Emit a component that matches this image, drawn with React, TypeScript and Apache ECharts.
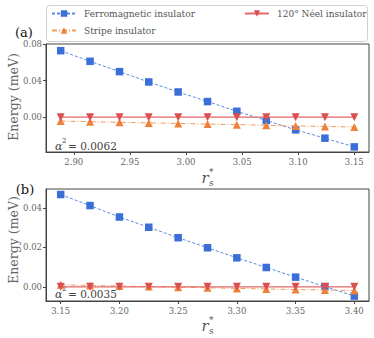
import React, { useEffect, useRef } from "react";
import * as echarts from "echarts";

const rsA = [2.8883, 2.9145, 2.9407, 2.9668, 2.993, 3.0192, 3.0453, 3.0715, 3.0977, 3.1238, 3.15];
const fmA = [0.0727, 0.0611, 0.0498, 0.0385, 0.0276, 0.0171, 0.0065, -0.0036, -0.0138, -0.0229, -0.0324];
const stripeA = [-0.0042, -0.0049, -0.0056, -0.0062, -0.0068, -0.0075, -0.0081, -0.0088, -0.0095, -0.0101, -0.0107];
const neelA = [0, 0, 0, 0, 0, 0, 0, 0, 0, 0, 0];

const rsB = [3.15, 3.175, 3.2, 3.225, 3.25, 3.275, 3.3, 3.325, 3.35, 3.375, 3.4];
const fmB = [0.0468, 0.0412, 0.0354, 0.0302, 0.0249, 0.0198, 0.0147, 0.0098, 0.0049, 0.0001, -0.0047];
const stripeB = [0.001, 0.0007, 0.0004, 0.0001, -0.0002, -0.0005, -0.0008, -0.0011, -0.0014, -0.0016, -0.0019];
const neelB = [0, 0, 0, 0, 0, 0, 0, 0, 0, 0, 0];

const xTicksA = [2.9, 2.95, 3.0, 3.05, 3.1, 3.15];
const xTicksB = [3.15, 3.2, 3.25, 3.3, 3.35, 3.4];
const yTicksA = [0, 0.04, 0.08];
const yTicksB = [0, 0.02, 0.04];

const FONT = "DejaVu Serif";
const BLUE = "#3b6fd8";
const ORANGE = "#ef8038";
const RED = "#d9504e";
const FM = "Ferromagnetic insulator";
const ST = "Stripe insulator";
const NE = "120° Néel insulator";

const pair = (xs: number[], ys: number[]) => xs.map((x, i) => [x, ys[i]]);

function xAxisCfg(grid: number, min: number, max: number, ticks: number[]) {
  return {
    type: "value",
    gridIndex: grid,
    min,
    max,
    axisLine: { show: true, onZero: false, lineStyle: { color: "#444", width: 1 } },
    axisTick: { show: true, length: 3, lineStyle: { color: "#444" }, customValues: ticks },
    axisLabel: {
      customValues: ticks,
      formatter: (v: number) => v.toFixed(2),
      color: "#666",
      fontFamily: FONT,
      fontSize: 8.5,
      margin: 5,
    },
    splitLine: { show: false },
  };
}

function yAxisCfg(grid: number, min: number, max: number, ticks: number[]) {
  return {
    type: "value",
    gridIndex: grid,
    min,
    max,
    axisLine: { show: true, onZero: false, lineStyle: { color: "#444", width: 1 } },
    axisTick: { show: true, length: 3, lineStyle: { color: "#444" }, customValues: ticks },
    axisLabel: {
      customValues: ticks,
      formatter: (v: number) => v.toFixed(2),
      color: "#666",
      fontFamily: FONT,
      fontSize: 8.5,
      margin: 4,
    },
    splitLine: { show: false },
  };
}

function seriesFor(idx: number, fm: number[], st: number[], ne: number[], xs: number[]) {
  return [
    {
      name: FM,
      type: "line",
      xAxisIndex: idx,
      yAxisIndex: idx,
      data: pair(xs, fm),
      symbol: "rect",
      symbolSize: 7.5,
      itemStyle: { color: BLUE },
      lineStyle: { color: "#5a88e0", width: 1, type: [3, 2] },
      z: 2,
    },
    {
      name: ST,
      type: "line",
      xAxisIndex: idx,
      yAxisIndex: idx,
      data: pair(xs, st),
      symbol: "triangle",
      symbolSize: 8,
      itemStyle: { color: ORANGE },
      lineStyle: { color: "#f39a60", width: 1, type: [5, 2, 1, 2] },
      z: 3,
    },
    {
      name: NE,
      type: "line",
      xAxisIndex: idx,
      yAxisIndex: idx,
      data: pair(xs, ne),
      symbol: "triangle",
      symbolRotate: 180,
      symbolSize: 8,
      itemStyle: { color: RED },
      lineStyle: { color: "#e06a68", width: 1.2, type: "solid" },
      z: 4,
    },
  ];
}

function xLabel(cx: number, cy: number) {
  return {
    type: "group",
    x: cx,
    y: cy,
    children: [
      { type: "text", x: 0, y: 0, style: { text: "r", fontFamily: FONT, fontStyle: "italic", fontSize: 15, fill: "#555", textAlign: "center", textVerticalAlign: "middle" } },
      { type: "text", x: 4, y: -6, style: { text: "*", fontFamily: FONT, fontSize: 9, fill: "#555", textAlign: "left", textVerticalAlign: "middle" } },
      { type: "text", x: 4, y: 5, style: { text: "s", fontFamily: FONT, fontStyle: "italic", fontSize: 9, fill: "#555", textAlign: "left", textVerticalAlign: "middle" } },
    ],
  };
}

function alphaLabel(x: number, y: number, val: string) {
  return {
    type: "group",
    x,
    y,
    children: [
      { type: "text", x: 0, y: 0, style: { text: "α", fontFamily: FONT, fontStyle: "italic", fontSize: 11, fill: "#444", textAlign: "left", textVerticalAlign: "middle" } },
      { type: "text", x: 7, y: -5, style: { text: "2", fontFamily: FONT, fontSize: 7, fill: "#444", textAlign: "left", textVerticalAlign: "middle" } },
      { type: "text", x: 13, y: 0, style: { text: "= " + val, fontFamily: FONT, fontSize: 10.5, fill: "#444", textAlign: "left", textVerticalAlign: "middle" } },
    ],
  };
}

function yLabel(cx: number, cy: number) {
  return {
    type: "text",
    x: cx,
    y: cy,
    rotation: Math.PI / 2,
    style: { text: "Energy (meV)", fontFamily: FONT, fontSize: 12.5, fill: "#666", textAlign: "center", textVerticalAlign: "middle" },
  };
}

export default function App() {
  const ref = useRef<HTMLDivElement>(null);
  useEffect(() => {
    if (!ref.current) return;
    const chart = echarts.init(ref.current, null, { renderer: "svg" });
    const legendCommon = {
      itemWidth: 24,
      itemHeight: 8,
      itemGap: 8,
      textStyle: { fontFamily: FONT, fontSize: 9, color: "#555", padding: [0, 0, 0, 3] },
      padding: 0,
      orient: "vertical",
    };
    chart.setOption({
      animation: false,
      grid: [
        { left: 46, top: 44, width: 323, height: 108, show: true, borderColor: "#444", borderWidth: 1, backgroundColor: "transparent" },
        { left: 46, top: 189, width: 323, height: 112, show: true, borderColor: "#444", borderWidth: 1, backgroundColor: "transparent" },
      ],
      xAxis: [xAxisCfg(0, 2.8752, 3.1631, xTicksA), xAxisCfg(1, 3.1375, 3.4125, xTicksB)],
      yAxis: [yAxisCfg(0, -0.038, 0.08, yTicksA), yAxisCfg(1, -0.0072, 0.0496, yTicksB)],
      legend: [
        { ...legendCommon, data: [FM, ST], left: 51, top: 9 },
        { ...legendCommon, data: [NE], left: 244, top: 9 },
      ],
      series: [...seriesFor(0, fmA, stripeA, neelA, rsA), ...seriesFor(1, fmB, stripeB, neelB, rsB)],
      graphic: [
        { type: "rect", shape: { x: 46.5, y: 5.5, width: 321, height: 36, r: 3 }, style: { fill: "rgba(255,255,255,0.8)", stroke: "#d0d0d0", lineWidth: 1 }, z: -1 },
        { type: "text", x: 24, y: 32, style: { text: "(a)", fontFamily: FONT, fontSize: 13, fill: "#111", textAlign: "center", textVerticalAlign: "middle" } },
        { type: "text", x: 25, y: 189, style: { text: "(b)", fontFamily: FONT, fontSize: 13, fill: "#111", textAlign: "center", textVerticalAlign: "middle" } },
        yLabel(13, 97),
        yLabel(13, 240),
        xLabel(205, 178),
        xLabel(205, 326),
        alphaLabel(55, 146, "0.0062"),
        alphaLabel(55, 294, "0.0035"),
      ],
    });
    return () => chart.dispose();
  }, []);
  return <div ref={ref} style={{ width: 374, height: 338, position: "absolute", left: 0, top: 0 }} />;
}
